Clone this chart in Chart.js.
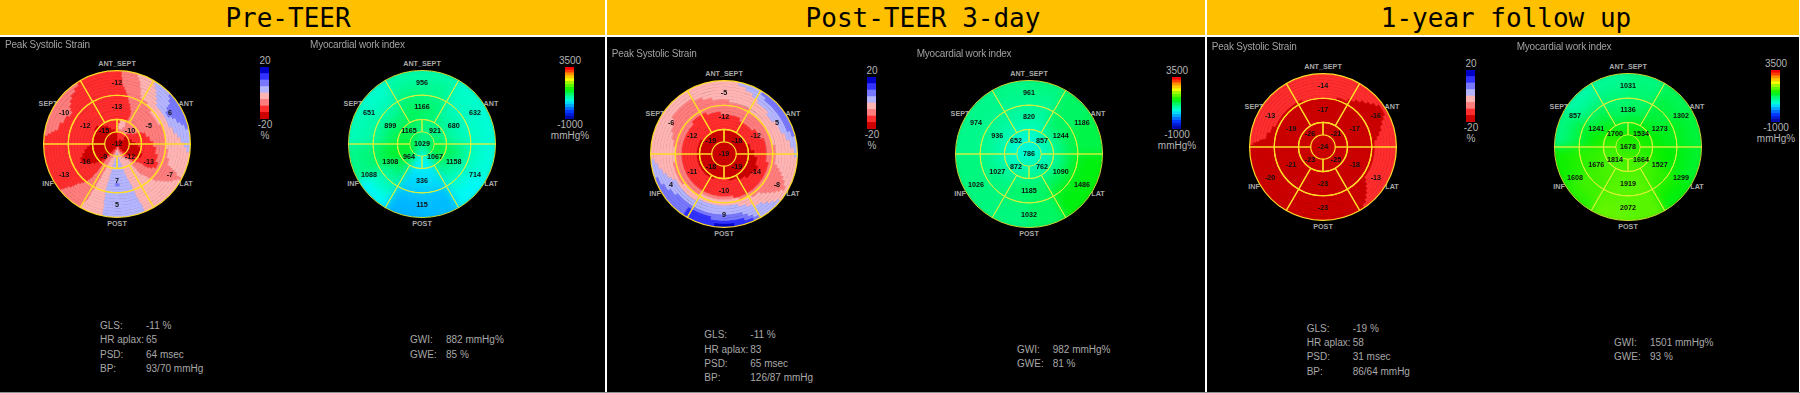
<!DOCTYPE html>
<html>
<head>
<meta charset="utf-8">
<title>Bullseye maps</title>
<script src="https://cdn.jsdelivr.net/npm/chart.js@4/dist/chart.umd.min.js"></script>
<style>
  html, body { margin: 0; background: #000; overflow: hidden; }
  #stage { position: relative; width: 1800px; height: 393px; background: #000; overflow: hidden; filter: blur(0.3px); }
  #stage > * { position: absolute; }
  .txt { font-family: "Liberation Sans", Arial, sans-serif; line-height: 1; white-space: nowrap; }
  .panel { letter-spacing: -0.2px; }
  .head { font-family: "DejaVu Sans Mono", monospace; font-size: 26px; color: #000; line-height: 1; white-space: pre; transform: translateX(-50%); top: 5px; }
</style>
</head>
<body>
<div id="stage"></div>
<script>
// segment values, in order: apex, apical (UR, LR, LL, UL), mid x6, basal x6
// mid and basal go clockwise from ANT_SEPT: ANT_SEPT, ANT, LAT, POST, INF, SEPT
const preStrain = [-12, -10, -12, -9, -15, -13, -5, -13, 7, -16, -12, -12, 6, -7, 5, -13, -10];
const preWork = [1029, 921, 1067, 964, 1165, 1166, 680, 1158, 336, 1308, 899, 956, 632, 714, 115, 1088, 651];
const postStrain = [-19, -18, -19, -18, -19, -12, -12, -14, -10, -11, -12, -5, 5, -8, 9, 4, -6];
const postWork = [786, 857, 762, 872, 652, 820, 1244, 1090, 1185, 1027, 936, 961, 1186, 1486, 1032, 1026, 974];
const yearStrain = [-24, -21, -25, -23, -26, -17, -17, -18, -23, -21, -19, -14, -16, -13, -23, -20, -13];
const yearWork = [1678, 1534, 1664, 1814, 1700, 1136, 1273, 1527, 1919, 1676, 1241, 1031, 1302, 1299, 2072, 1608, 857];

// strain colour field: rows run from rim to centre,
// each row is value, angle where it ends, value, angle where it ends...
const preStrainField = [
  [-13,4, -8,17, -3,32, 3,47, 8,78, 3,97, -3,118, -8,120, -3,158, 3,192, -3,210, -8,231, -13,277, -8,327, -13,360],
  [-13,4, -8,19, -3,34, 3,50, 8,74, 3,93, -3,118, -8,122, -3,158, 3,192, -3,210, -8,230, -13,279, -8,322, -13,360],
  [-13,5, -8,21, -3,37, 3,53, 8,71, 3,89, -3,116, -8,125, -3,158, 3,192, -3,209, -8,229, -13,281, -8,316, -13,360],
  [-13,5, -8,22, -3,39, 3,54, 8,66, 3,84, -3,115, -8,127, -3,159, 3,192, -3,208, -8,227, -13,283, -8,312, -13,360],
  [-13,6, -8,24, -3,42, 3,57, 8,63, 3,80, -3,114, -8,129, -3,159, 3,193, -3,208, -8,226, -13,291, -8,308, -13,360],
  [-13,8, -8,25, -3,45, 3,73, -3,113, -8,131, -3,160, 3,193, -3,208, -8,225, -13,300, -8,306, -13,360],
  [-13,10, -8,27, -3,106, -8,134, -3,160, 3,193, -3,208, -8,223, -13,360],
  [-13,12, -8,37, -3,96, -8,135, -3,160, 3,194, -3,207, -8,221, -13,360],
  [-13,14, -8,46, -3,66, -8,137, -3,161, 3,194, -3,207, -8,219, -13,360],
  [-13,16, -8,115, -13,123, -8,138, -3,161, 3,194, -3,207, -8,218, -13,360],
  [-13,19, -8,105, -13,126, -8,140, -3,162, 3,177, 8,183, 3,194, -3,207, -8,217, -13,360],
  [-13,21, -8,95, -13,128, -8,142, -3,163, 3,193, -3,206, -8,217, -13,241, -18,250, -13,360],
  [-13,24, -8,86, -13,129, -8,143, -3,164, 3,193, -3,206, -8,216, -13,239, -18,255, -13,360],
  [-13,25, -8,77, -13,129, -8,143, -3,165, 3,193, -3,206, -8,216, -13,233, -18,261, -13,360],
  [-13,25, -8,68, -13,131, -8,144, -3,166, 3,192, -3,205, -8,216, -13,229, -18,266, -13,360],
  [-13,24, -8,64, -13,111, -18,122, -13,134, -8,144, -3,167, 3,192, -3,205, -8,216, -13,226, -18,272, -13,303, -18,314, -13,360],
  [-13,8, -3,23, -8,62, -13,99, -18,125, -13,138, -8,144, -3,168, 3,192, -3,205, -8,216, -13,224, -18,324, -13,360],
  [-13,5, -3,25, -8,60, -13,88, -18,128, -13,140, -8,145, -3,170, 3,190, -3,204, -8,216, -13,222, -18,333, -13,360],
  [-13,5, -3,20, -8,52, -13,84, -18,134, -13,145, -8,152, -3,172, 3,189, -3,203, -8,215, -13,221, -18,340, -13,360],
  [-13,5, -8,45, -13,72, -18,138, -13,150, -8,160, -3,174, 3,186, -3,198, -8,212, -13,219, -18,352, -13,360],
  [-13,50, -18,140, -13,152, -8,165, -3,176, 3,184, -3,192, -8,204, -13,217, -18,360],
  [-13,60, -18,145, -13,160, -8,172, -3,188, -8,200, -13,215, -18,360],
  [-13,30, -18,150, -13,165, -8,185, -13,205, -18,360],
  [-18,360]
];
const postStrainField = [
  [-3,12, 3,32, 8,76, 3,93, -3,130, 3,150, 8,156, 13,172, 18,188, 13,214, 8,251, 3,266, -3,360],
  [-3,19, 3,37, 8,71, 3,85, -3,118, -8,122, -3,134, 3,155, 8,163, 13,214, 8,244, 3,262, -3,360],
  [-3,26, 3,78, -3,114, -8,125, -3,138, 3,159, 8,192, 13,214, 8,237, 3,257, -3,360],
  [-3,33, 3,71, -3,111, -8,128, -3,142, 3,163, 8,230, 3,252, -3,305, -8,331, -3,360],
  [-3,47, 3,57, -3,108, -8,131, -3,150, 3,247, -3,299, -8,339, -3,360],
  [-3,105, -8,134, -3,157, 3,243, -3,293, -8,348, -3,360],
  [-8,6, -3,102, -8,137, -3,165, 3,212, -3,286, -8,360],
  [-8,31, -3,80, -8,147, -3,234, -8,261, -3,279, -8,360],
  [-8,162, -3,212, -8,360],
  [-8,101, -13,168, -8,315, -13,337, -8,360],
  [-8,68, -13,356, -8,360],
  [-13,25, -8,51, -13,360],
  [-13,110, -18,122, -13,360],
  [-13,96, -18,137, -13,360],
  [-13,83, -18,153, -13,360],
  [-13,68, -18,170, -13,203, -18,303, -13,360],
  [-18,360], [-18,360], [-18,360], [-18,360], [-18,360], [-18,360], [-18,360], [-18,360]
];
const yearStrainField = [
  [-13,146, -18,272, -13,360],
  [-13,53, -18,63, -13,142, -18,274, -13,360],
  [-13,49, -18,66, -13,139, -18,275, -13,360],
  [-13,45, -18,70, -13,136, -18,277, -13,360],
  [-13,40, -18,75, -13,133, -18,278, -13,360],
  [-13,35, -18,79, -13,130, -18,285, -13,360],
  [-13,28, -18,83, -13,127, -18,293, -13,360],
  [-13,16, -18,336, -13,360],
  [-18,360], [-18,360], [-18,360], [-18,360], [-18,360], [-18,360], [-18,360], [-18,360],
  [-18,360], [-18,360], [-18,360], [-18,360], [-18,360], [-18,360], [-18,360], [-18,360]
];

// work colour field: rim to centre, 12 equal sectors clockwise from the top
const preWorkField = [
  [850, 650, 620, 600, 500, 250, 200, 500, 1000, 750, 650, 850],
  [950, 680, 640, 640, 550, 250, 220, 650, 1050, 800, 700, 950],
  [1000, 720, 680, 750, 650, 300, 300, 800, 1100, 880, 800, 1050],
  [1080, 800, 760, 980, 800, 400, 380, 1000, 1230, 1000, 950, 1120],
  [1120, 900, 850, 1150, 1000, 420, 400, 1150, 1330, 1150, 1100, 1180],
  [1050, 1000, 1000, 1250, 1150, 500, 480, 1250, 1350, 1250, 1220, 1150],
  [1000, 1050, 1100, 1350, 1200, 550, 500, 1300, 1350, 1300, 1200, 1050],
  [1000, 1020, 1050, 1100, 900, 700, 700, 950, 1100, 1100, 1050, 1000]
];
const postWorkField = [
  [1050, 1150, 1250, 1450, 1450, 1150, 1050, 1050, 1050, 1000, 1000, 1020],
  [1000, 1150, 1250, 1450, 1450, 1150, 1050, 1050, 1050, 1000, 1000, 1000],
  [950, 1150, 1250, 1400, 1400, 1150, 1100, 1050, 1050, 1000, 980, 950],
  [900, 1150, 1200, 1250, 1250, 1150, 1120, 1050, 1000, 950, 930, 900],
  [800, 1050, 1050, 1050, 1100, 1100, 1100, 950, 900, 850, 820, 820],
  [700, 850, 850, 850, 900, 950, 950, 850, 750, 750, 700, 700],
  [600, 700, 700, 720, 780, 800, 800, 720, 650, 620, 600, 600],
  [620, 640, 650, 650, 660, 680, 680, 660, 640, 630, 620, 620]
];
const yearWorkField = [
  [1050, 1200, 1300, 1350, 1450, 1850, 1900, 1650, 1550, 1050, 850, 950],
  [1080, 1250, 1350, 1400, 1550, 1850, 1880, 1750, 1600, 1150, 950, 1020],
  [1120, 1300, 1400, 1450, 1650, 1850, 1850, 1750, 1650, 1300, 1100, 1080],
  [1150, 1300, 1400, 1500, 1700, 1850, 1850, 1750, 1680, 1400, 1250, 1130],
  [1250, 1350, 1450, 1550, 1750, 1830, 1830, 1800, 1700, 1550, 1350, 1200],
  [1450, 1500, 1550, 1620, 1750, 1800, 1800, 1800, 1750, 1650, 1550, 1350],
  [1550, 1580, 1620, 1650, 1730, 1780, 1780, 1780, 1740, 1700, 1650, 1550],
  [1650, 1660, 1670, 1680, 1690, 1700, 1700, 1700, 1690, 1680, 1670, 1650]
];

const directionLabels = ['ANT_SEPT', 'ANT', 'LAT', 'POST', 'INF', 'SEPT'];
const strainBarEdges = [-20, -15, -10, -5, 0, 5, 10, 15, 20];
const workBarEdges = [-1000, -750, -500, -250, 0, 250, 500, 750, 1000, 1250, 1500, 1750, 2000, 2250, 2500, 2750, 3000, 3250, 3500];
const strainBarLabels = ['20', '-20', '%'];
const workBarLabels = ['3500', '-1000', 'mmHg%'];

const headTitles = ['Pre-TEER', 'Post-TEER 3-day', '1-year follow up'];
const statNames = ['GLS:', 'HR aplax:', 'PSD:', 'BP:'];
const workStatNames = ['GWI:', 'GWE:'];
const preStats = ['-11 %', '65', '64 msec', '93/70 mmHg'];
const postStats = ['-11 %', '83', '65 msec', '126/87 mmHg'];
const yearStats = ['-19 %', '58', '31 msec', '86/64 mmHg'];
const preWorkStats = ['882 mmHg%', '85 %'];
const postWorkStats = ['982 mmHg%', '81 %'];
const yearWorkStats = ['1501 mmHg%', '93 %'];

const stage = document.getElementById('stage');
const RADIUS = 73.3;
const CANVAS = 160;

function addBox(x, y, w, h, color) {
  const d = document.createElement('div');
  d.style.cssText = `left:${x}px;top:${y}px;width:${w}px;height:${h}px;background:${color}`;
  stage.appendChild(d);
}

function addText(str, x, y, size, color, centered, bold, extraClass) {
  const d = document.createElement('div');
  d.className = 'txt' + (extraClass ? ' ' + extraClass : '');
  d.textContent = str;
  d.style.cssText = `left:${x}px;top:${y}px;font-size:${size}px;color:${color};` +
    `transform:translate(${centered ? '-50%' : '0'},-50%);font-weight:${bold ? 'bold' : 'normal'}`;
  stage.appendChild(d);
}

function addCanvas(x, y, w, h) {
  const c = document.createElement('canvas');
  c.width = w;
  c.height = h;
  c.style.left = x + 'px';
  c.style.top = y + 'px';
  stage.appendChild(c);
  c.style.position = 'absolute';
  return c;
}

// strain colours come in 5% bands
function strainColor(v) {
  if (v >= 15) return '#0000c8';
  if (v >= 10) return '#3232ff';
  if (v >= 5) return '#7878ff';
  if (v >= 0) return '#b4b4ff';
  if (v >= -5) return '#ffb4b4';
  if (v >= -10) return '#ff7d7d';
  if (v >= -15) return '#ff2d2d';
  return '#cd0000';
}

const workStops = [
  [-1000, 0, 0, 150], [-400, 0, 50, 255], [115, 0, 165, 255], [336, 0, 205, 255], [500, 0, 250, 250],
  [650, 0, 255, 205], [1000, 0, 250, 140], [1300, 0, 245, 60], [1500, 0, 240, 0], [1800, 75, 245, 0],
  [2100, 150, 250, 0], [2400, 255, 255, 0], [2900, 255, 140, 0], [3300, 255, 0, 0], [3500, 255, 0, 0]
];
function workColor(v) {
  for (let i = 1; i < workStops.length; i++) {
    const a = workStops[i - 1], b = workStops[i];
    if (v <= b[0]) {
      const t = Math.max(0, (v - a[0]) / (b[0] - a[0]));
      return `rgb(${[1, 2, 3].map(k => Math.round(a[k] + (b[k] - a[k]) * t)).join(',')})`;
    }
  }
  return 'rgb(255,0,0)';
}

// colour field behind the grid, one doughnut ring per row
function drawField(cx, cy, rows, colorFn, isStops, blur) {
  const c = addCanvas(cx - CANVAS / 2, cy - CANVAS / 2, CANVAS, CANVAS);
  c.style.filter = `blur(${blur}px)`;
  c.style.clipPath = `circle(${RADIUS}px at ${CANVAS / 2}px ${CANVAS / 2}px)`;
  const step = RADIUS / rows.length;
  const datasets = rows.map((row, i) => {
    let values = row, spans = row.map(() => 1);
    if (isStops) {
      values = [];
      spans = [];
      let prev = 0;
      for (let k = 0; k < row.length; k += 2) {
        values.push(row[k]);
        spans.push(row[k + 1] - prev);
        prev = row[k + 1];
      }
    }
    const colors = values.map(colorFn);
    return {
      data: spans,
      backgroundColor: colors,
      borderColor: colors,
      borderWidth: 0.6,
      weight: i === 0 ? step + 6.4 : step
    };
  });
  new Chart(c, {
    type: 'doughnut',
    data: { datasets },
    options: {
      responsive: false,
      animation: false,
      events: [],
      cutout: 0,
      plugins: { legend: { display: false }, tooltip: { enabled: false } }
    }
  });
}

// labels go on after the rings, each at the middle of its segment
const segmentText = {
  id: 'segmentText',
  afterDatasetsDraw(chart) {
    const ctx = chart.ctx;
    ctx.save();
    ctx.font = 'bold 7.2px "Liberation Sans", Arial, sans-serif';
    ctx.fillStyle = '#101010';
    ctx.textAlign = 'center';
    ctx.textBaseline = 'middle';
    chart.data.datasets.forEach((ds, i) => {
      chart.getDatasetMeta(i).data.forEach((arc, k) => {
        const p = ds.data.length === 1 ? { x: arc.x, y: arc.y } : arc.getCenterPoint();
        ctx.fillText(String(ds.segValues[k]), p.x, p.y);
      });
    });
    ctx.restore();
  }
};

function drawGrid(cx, cy, values, lineColor, lineWidth) {
  const c = addCanvas(cx - CANVAS / 2, cy - CANVAS / 2, CANVAS, CANVAS);
  const six = [1, 1, 1, 1, 1, 1];
  const ring = (segValues, data, rotation, weight, width) => ({
    data, segValues, rotation, weight,
    backgroundColor: 'rgba(0,0,0,0)',
    borderColor: lineColor,
    borderWidth: width
  });
  new Chart(c, {
    type: 'doughnut',
    data: {
      datasets: [
        ring(values.slice(11, 17), six, -30, 24.6, lineWidth),
        ring(values.slice(5, 11), six, -30, 24.2, lineWidth),
        ring(values.slice(1, 5), [1, 1, 1, 1], 0, 12.3, lineWidth),
        ring(values.slice(0, 1), [1], 0, 12.2, 0)
      ]
    },
    options: {
      responsive: false,
      animation: false,
      events: [],
      cutout: 0,
      layout: { padding: 6 },
      plugins: { legend: { display: false }, tooltip: { enabled: false } }
    },
    plugins: [segmentText]
  });
}

function drawColorBar(cx, cy, edges, colorFn, labels) {
  const c = addCanvas(cx + 143, cy - 77, 9, 52);
  const datasets = [];
  for (let i = 0; i < edges.length - 1; i++) {
    datasets.push({
      data: [[edges[i], edges[i + 1]]],
      backgroundColor: colorFn((edges[i] + edges[i + 1]) / 2),
      grouped: false,
      barPercentage: 1,
      categoryPercentage: 1
    });
  }
  new Chart(c, {
    type: 'bar',
    data: { labels: [''], datasets },
    options: {
      responsive: false,
      maintainAspectRatio: false,
      animation: false,
      events: [],
      plugins: { legend: { display: false }, tooltip: { enabled: false } },
      scales: {
        x: { display: false },
        y: { display: false, min: edges[0], max: edges[edges.length - 1] }
      }
    }
  });
  addText(labels[0], cx + 148, cy - 83, 10, '#b4b4b4', true);
  addText(labels[1], cx + 148, cy - 19, 10, '#b4b4b4', true);
  addText(labels[2], cx + 148, cy - 8.5, 10, '#b4b4b4', true);
}

function drawBullseye(cfg) {
  const { cx, cy } = cfg;
  const dirColor = '#a8a8a8';
  addText(directionLabels[0], cx, cy - 80, 7.2, dirColor, true, true);
  addText(directionLabels[1], cx + 69, cy - 40, 7.2, dirColor, true, true);
  addText(directionLabels[2], cx + 69, cy + 40, 7.2, dirColor, true, true);
  addText(directionLabels[3], cx, cy + 80, 7.2, dirColor, true, true);
  addText(directionLabels[4], cx - 69, cy + 40, 7.2, dirColor, true, true);
  addText(directionLabels[5], cx - 69, cy - 40, 7.2, dirColor, true, true);
  drawField(cx, cy, cfg.field, cfg.colorFn, cfg.isStops, cfg.blur);
  drawGrid(cx, cy, cfg.values, cfg.lineColor, cfg.lineWidth);
  drawColorBar(cx, cy, cfg.barEdges, cfg.colorFn, cfg.barLabels);
  addText(cfg.title, cfg.titleX, cfg.titleY, 10, '#a0a0a0', false, false, 'panel');
}

function drawStats(names, vals, x, xVal, y) {
  names.forEach((n, i) => {
    addText(n, x, y + i * 14.3, 10, '#a8a8a8');
    addText(vals[i], xVal, y + i * 14.3, 10, '#a8a8a8');
  });
}

// header band
addBox(0, 0, 1800, 35, '#ffc000');
addBox(0, 35, 1800, 2, '#ffffff');
addBox(605, 0, 2, 393, '#ffffff');
addBox(1205, 0, 2, 393, '#ffffff');
addBox(1799, 0, 1, 393, '#ffffff');
addBox(0, 392, 1800, 1, '#909090');

[288, 923, 1506].forEach((x, i) => {
  const d = document.createElement('div');
  d.className = 'head';
  d.textContent = headTitles[i];
  d.style.left = x + 'px';
  stage.appendChild(d);
});

const strainLine = '#ffdc28', workLine = '#dcf03c';
const strainOpts = { colorFn: strainColor, isStops: true, blur: 0.7, lineColor: strainLine, lineWidth: 1.2,
  barEdges: strainBarEdges, barLabels: strainBarLabels, title: 'Peak Systolic Strain' };
const workOpts = { colorFn: workColor, isStops: false, blur: 4, lineColor: workLine, lineWidth: 0.9,
  barEdges: workBarEdges, barLabels: workBarLabels, title: 'Myocardial work index' };

drawBullseye({ ...strainOpts, cx: 117, cy: 144, values: preStrain, field: preStrainField, titleX: 5, titleY: 44.7 });
drawBullseye({ ...workOpts, cx: 422, cy: 144, values: preWork, field: preWorkField, titleX: 310, titleY: 44.7 });
drawBullseye({ ...strainOpts, cx: 724, cy: 154, values: postStrain, field: postStrainField, titleX: 611.7, titleY: 54 });
drawBullseye({ ...workOpts, cx: 1029, cy: 154, values: postWork, field: postWorkField, titleX: 916.7, titleY: 54 });
drawBullseye({ ...strainOpts, cx: 1323, cy: 147, values: yearStrain, field: yearStrainField, titleX: 1211.7, titleY: 47.3 });
drawBullseye({ ...workOpts, cx: 1628, cy: 147, values: yearWork, field: yearWorkField, titleX: 1516.7, titleY: 47.3 });

drawStats(statNames, preStats, 100, 146, 326);
drawStats(workStatNames, preWorkStats, 410, 446, 340.3);
drawStats(statNames, postStats, 704.3, 750.3, 335.3);
drawStats(workStatNames, postWorkStats, 1017, 1052.7, 349.7);
drawStats(statNames, yearStats, 1306.7, 1352.7, 328.7);
drawStats(workStatNames, yearWorkStats, 1614, 1650, 342.7);
</script>
</body>
</html>
